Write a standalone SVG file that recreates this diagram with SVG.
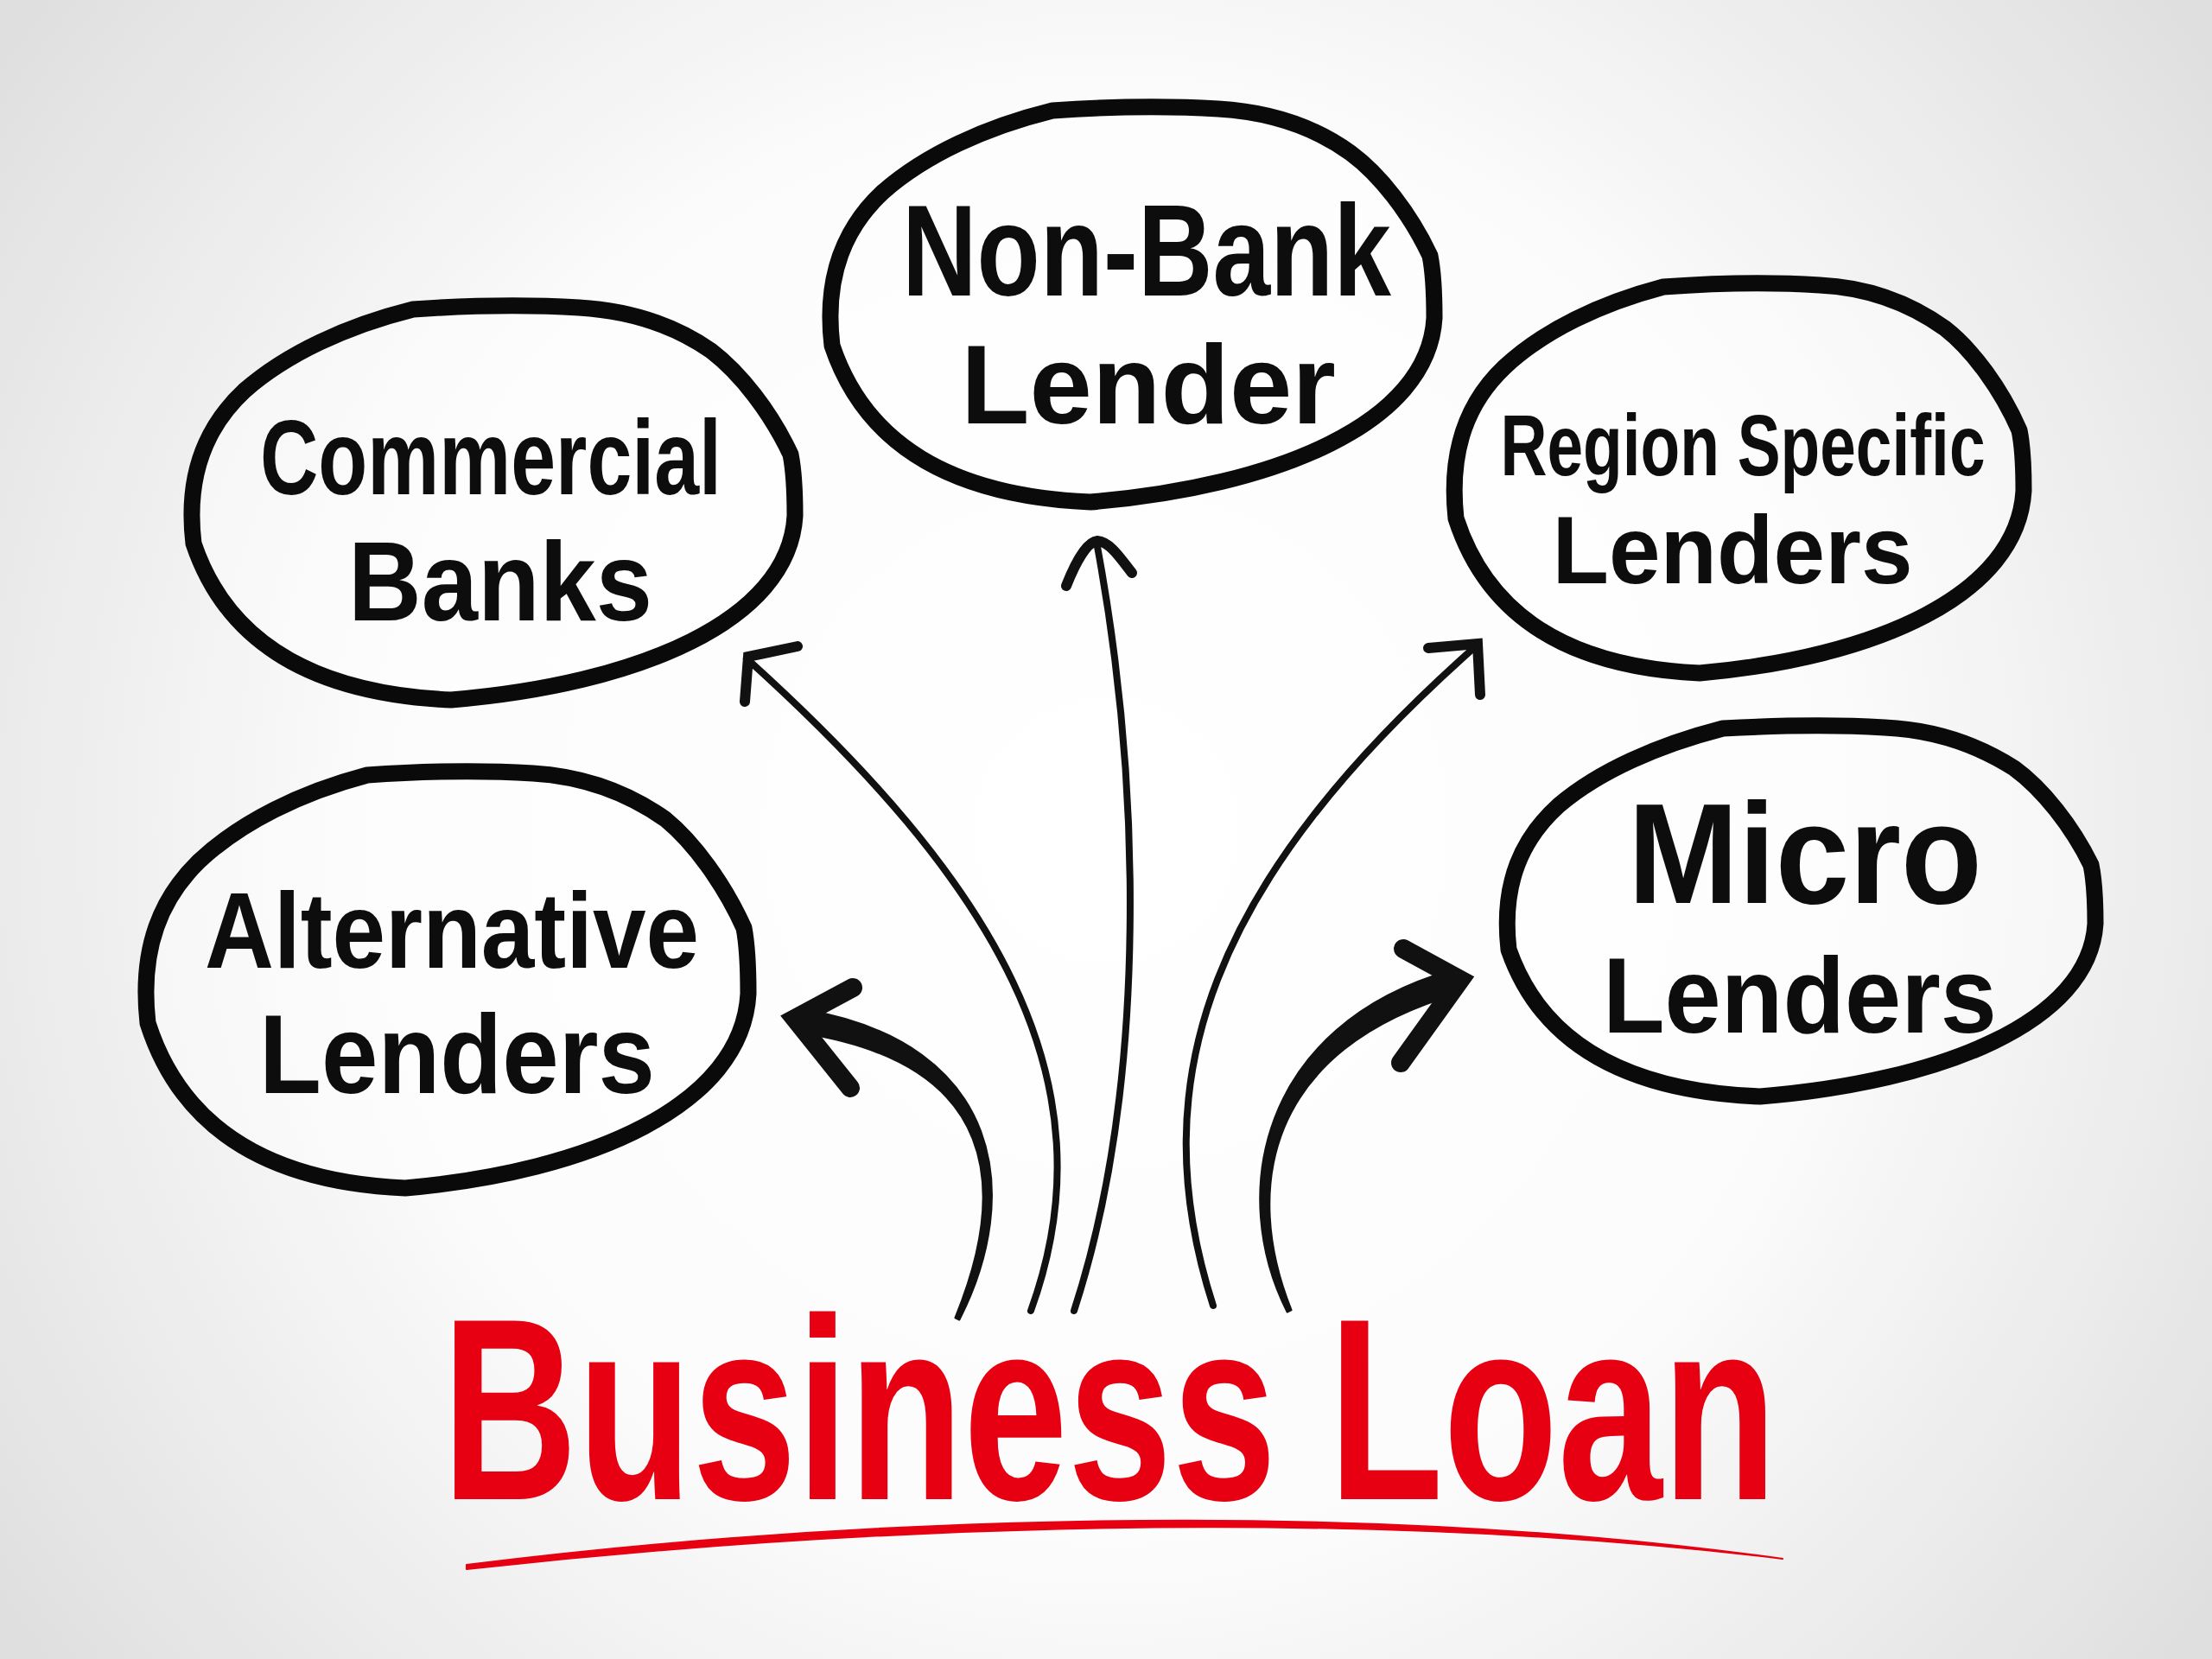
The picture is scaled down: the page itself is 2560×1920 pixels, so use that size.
<svg xmlns="http://www.w3.org/2000/svg" width="2560" height="1920" viewBox="0 0 2560 1920">
<defs>
<radialGradient id="bg" cx="1280" cy="960" r="1650" gradientUnits="userSpaceOnUse">
<stop offset="0" stop-color="#ffffff"/>
<stop offset="0.5" stop-color="#fcfcfc"/>
<stop offset="1" stop-color="#dcdcdc"/>
</radialGradient>
</defs>
<style>
.blob{fill:#ffffff;fill-opacity:0.45;stroke:#0a0a0a;stroke-width:19;stroke-linejoin:round}
.lbl{font-family:"Liberation Sans Narrow","Liberation Sans",Arial,sans-serif;font-weight:bold;fill:#0d0d0d;text-anchor:middle}
.title{font-family:"Liberation Sans",Arial,sans-serif;font-weight:bold;fill:#e60012;text-anchor:middle}
.thin{fill:none;stroke:#111;stroke-width:8;stroke-linecap:round}
.head{fill:none;stroke:#111;stroke-width:12;stroke-linecap:round;stroke-linejoin:miter}
.thick{fill:#111;stroke:#111;stroke-width:3;stroke-linejoin:round}
.thickhead{fill:none;stroke:#111;stroke-width:22;stroke-linecap:round;stroke-linejoin:miter}
</style>
<rect x="0" y="0" width="2560" height="1920" fill="url(#bg)"/>

<g id="commercial-banks">
<path class="blob" d="M 478 358 C 535 354 605 352 670 356 C 738 360 787 381 823 406 C 857 432 892 477 915 526 C 919 546 920 573 920 597 C 913 719 738 792 522 810 C 360 803 262 742 224 629 C 214 546 241 491 283 452 C 332 409 402 377 478 358 Z"/>
<text class="lbl" x="568" y="572" font-size="122" textLength="534" lengthAdjust="spacingAndGlyphs">Commercial</text>
<text class="lbl" x="579" y="718" font-size="130" textLength="352" lengthAdjust="spacingAndGlyphs">Banks</text>
</g>

<g id="non-bank-lender">
<path class="blob" d="M 1218 128 C 1275 124 1345 122 1410 126 C 1478 130 1527 151 1563 177 C 1597 202 1632 247 1655 296 C 1659 316 1660 343 1660 368 C 1653 490 1478 563 1262 581 C 1099 574 1001 513 963 400 C 953 316 980 261 1022 222 C 1071 179 1141 147 1218 128 Z"/>
<text class="lbl" x="1327" y="342" font-size="150" textLength="566" lengthAdjust="spacingAndGlyphs">Non-Bank</text>
<text class="lbl" x="1329" y="490" font-size="130" textLength="434" lengthAdjust="spacingAndGlyphs">Lender</text>
</g>

<g id="region-specific-lenders">
<path class="blob" d="M 1925 332 C 1979 328 2045 326 2106 330 C 2170 333 2216 355 2251 380 C 2283 405 2316 450 2337 498 C 2341 517 2342 545 2342 568 C 2335 689 2171 761 1967 779 C 1813 772 1721 711 1685 600 C 1676 517 1701 463 1741 425 C 1787 382 1853 351 1925 332 Z"/>
<text class="lbl" x="2017" y="550" font-size="100" textLength="561" lengthAdjust="spacingAndGlyphs">Region Specific</text>
<text class="lbl" x="2005" y="675" font-size="112" textLength="417" lengthAdjust="spacingAndGlyphs">Lenders</text>
</g>

<g id="alternative-lenders">
<path class="blob" d="M 425 897 C 482 893 552 891 617 895 C 684 899 733 922 770 948 C 803 975 838 1023 861 1074 C 865 1095 866 1124 866 1150 C 859 1279 684 1356 469 1375 C 307 1368 209 1303 171 1184 C 161 1095 188 1038 230 997 C 279 951 349 917 425 897 Z"/>
<text class="lbl" x="523" y="1120" font-size="124" textLength="572" lengthAdjust="spacingAndGlyphs">Alternative</text>
<text class="lbl" x="529" y="1265" font-size="130" textLength="458" lengthAdjust="spacingAndGlyphs">Lenders</text>
</g>

<g id="micro-lenders">
<path class="blob" d="M 1994 843 C 2049 840 2118 838 2181 842 C 2247 845 2295 866 2331 889 C 2364 913 2398 956 2420 1001 C 2424 1020 2425 1046 2425 1069 C 2418 1183 2247 1252 2037 1269 C 1879 1263 1783 1205 1746 1099 C 1737 1020 1763 969 1804 932 C 1851 892 1920 862 1994 843 Z"/>
<text class="lbl" x="2089" y="1045" font-size="165" textLength="410" lengthAdjust="spacingAndGlyphs">Micro</text>
<text class="lbl" x="2083" y="1195" font-size="125" textLength="456" lengthAdjust="spacingAndGlyphs">Lenders</text>
</g>

<g id="connectors">
<path class="thin" d="M 1193 1517 C 1290 1250 1150 1020 864 762"/>
<path class="head" d="M 923 748 L 866 760 L 862 812"/>
<path class="thin" d="M 1243 1517 C 1330 1250 1320 900 1269 627"/>
<path class="head" stroke-width="10" d="M 1234 678 C 1245 650 1258 627 1270 626 C 1285 627 1298 648 1310 663"/>
<path class="thin" d="M 1404 1511 C 1320 1250 1400 1020 1709 747"/>
<path class="head" d="M 1653 750 L 1710 745 L 1713 804"/>
<path class="thick" d="M 1110 1527 C 1183 1384 1162 1209 932 1169 L 928 1195 C 1158 1231 1167 1376 1106 1525 Z"/>
<path class="thickhead" d="M 987 1143 L 920 1179 L 984 1259"/>
<path class="thick" d="M 1494 1516 C 1438 1376 1464 1213 1689 1149 L 1681 1123 C 1456 1187 1422 1384 1490 1518 Z"/>
<path class="thickhead" d="M 1624 1098 L 1690 1134 L 1621 1230"/>
</g>

<g id="business-loan">
<text class="title" transform="translate(1284,1735) scale(0.724,1)" x="0" y="0" font-size="300">Business Loan</text>
</g>
<g id="underline">
<path d="M 540 1811 C 900 1766 1500 1726 2063 1804 C 1500 1736 900 1776 540 1816 Z" fill="#e60012" stroke="#e60012" stroke-width="2" stroke-linejoin="round"/>
</g>
</svg>
